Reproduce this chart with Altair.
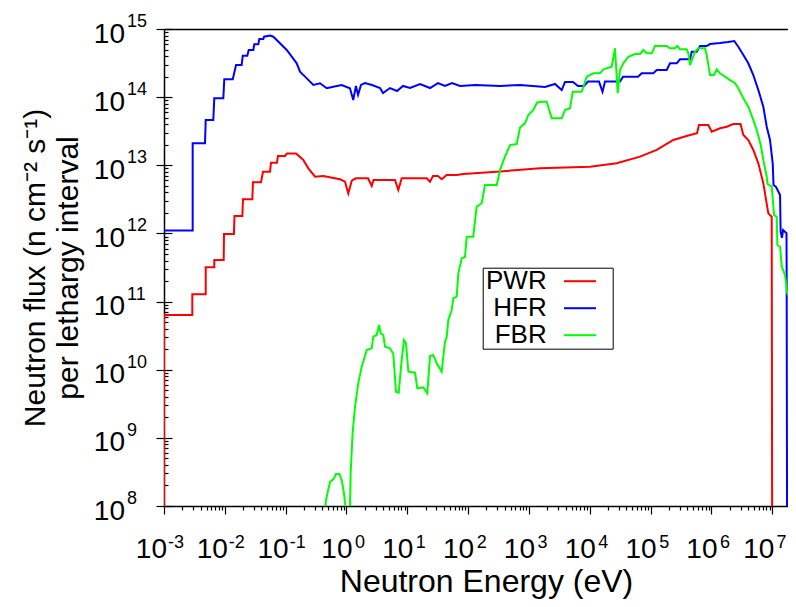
import altair as alt
import pandas as pd

# ---------------- data (energy in eV, flux per lethargy interval) ----------------
SERIES = ["PWR", "HFR", "FBR"]
COLORS = ["#ff0000", "#0000ff", "#00ff00"]

PWR_POINTS = [
    (1e-3, 1e6), (1e-3, 6.35e10), (2.92e-3, 6.35e10), (2.92e-3, 1.28e11), (4.85e-3, 1.28e11),
    (4.85e-3, 3.18e11), (6.71e-3, 3.18e11), (6.71e-3, 4.07e11), (9.58e-3, 4.07e11), (9.69e-3, 9.80e11),
    (1.41e-2, 9.80e11), (1.44e-2, 1.80e12), (1.94e-2, 1.80e12), (1.99e-2, 3.17e12), (2.83e-2, 3.17e12),
    (2.90e-2, 5.63e12), (3.93e-2, 5.63e12), (4.24e-2, 8.05e12), (5.53e-2, 8.05e12), (5.74e-2, 1.09e13),
    (7.20e-2, 1.09e13), (7.48e-2, 1.37e13), (9.75e-2, 1.37e13), (0.105, 1.49e13), (0.148, 1.49e13),
    (0.195, 1.20e13), (0.236, 9.03e12), (0.304, 6.80e12), (0.416, 6.96e12), (0.782, 6.23e12),
    (0.945, 5.74e12), (1.07, 3.85e12), (1.22, 5.94e12), (1.43, 6.44e12), (2.26, 6.44e12),
    (2.60, 4.96e12), (2.78, 6.08e12), (6.27, 6.08e12), (7.11, 4.34e12), (8.08, 6.44e12),
    (20.8, 6.44e12), (23.6, 5.74e12), (26.4, 6.96e12), (31.9, 6.96e12), (36.7, 6.23e12),
    (44.4, 7.20e12), (64.8, 7.20e12), (83.2, 7.45e12), (295, 8.05e12), (1518, 9.03e12),
    (10070, 9.53e12), (27660, 1.07e13), (66830, 1.34e13), (1.258e5, 1.68e13), (2.36e5, 2.35e13),
    (4.44e5, 2.78e13), (5.78e5, 2.95e13), (6.23e5, 3.90e13), (8.87e5, 3.90e13), (1.01e6, 3.11e13),
    (1.38e6, 3.49e13), (1.78e6, 3.68e13), (2.28e6, 4.03e13), (3.00e6, 4.03e13), (3.34e6, 2.78e13),
    (4.03e6, 2.35e13), (4.87e6, 1.68e13), (5.89e6, 1.07e13), (7.11e6, 5.44e12), (8.59e6, 1.97e12),
    (9.77e6, 1.76e12), (1.0e7, 1e6),
]

HFR_POINTS = [
    (1e-3, 1.10e12), (2.96e-3, 1.10e12), (2.96e-3, 2.10e13), (4.72e-3, 2.10e13), (4.85e-3, 4.62e13),
    (6.46e-3, 4.62e13), (6.71e-3, 9.62e13), (9.44e-3, 9.62e13), (9.80e-3, 1.83e14), (1.35e-2, 1.83e14),
    (1.53e-2, 2.96e14), (1.89e-2, 2.96e14), (1.97e-2, 4.06e14), (2.34e-2, 4.06e14), (2.47e-2, 4.92e14),
    (2.94e-2, 4.92e14), (3.05e-2, 5.96e14), (3.55e-2, 5.96e14), (3.69e-2, 7.13e14), (4.29e-2, 7.13e14),
    (4.41e-2, 7.71e14), (5.53e-2, 8.03e14), (6.26e-2, 7.71e14), (7.12e-2, 6.90e14), (8.61e-2, 5.82e14),
    (0.104, 4.92e14), (0.126, 3.92e14), (0.152, 3.14e14), (0.172, 2.36e14), (0.208, 2.0e14),
    (0.285, 1.51e14), (0.367, 1.60e14), (0.473, 1.35e14), (0.607, 1.42e14), (0.834, 1.51e14),
    (1.14, 1.35e14), (1.29, 9.08e13), (1.43, 1.46e14), (1.55, 1.08e14), (1.73, 1.51e14),
    (2.01, 1.61e14), (2.63, 1.51e14), (3.56, 1.36e14), (3.98, 1.15e14), (5.19, 1.36e14),
    (6.77, 1.23e14), (8.49, 1.46e14), (11.1, 1.36e14), (16.2, 1.56e14), (23.6, 1.36e14),
    (31.9, 1.61e14), (41.6, 1.46e14), (54.3, 1.61e14), (73.5, 1.46e14), (130, 1.51e14),
    (334, 1.46e14), (712, 1.51e14), (1833, 1.41e14), (2677, 1.56e14), (3450, 1.27e14),
    (3908, 1.67e14), (5291, 1.67e14), (6393, 1.46e14), (8024, 1.46e14), (9335, 1.69e14),
    (14160, 1.69e14), (16170, 1.20e14), (17770, 1.69e14), (31350, 1.69e14), (35120, 2.0e14),
    (61960, 2.0e14), (71290, 2.24e14), (1.106e5, 2.24e14), (1.258e5, 2.50e14), (1.835e5, 2.50e14),
    (2.08e5, 3.14e14), (2.68e5, 3.14e14), (3.04e5, 3.59e14), (4.44e5, 3.59e14), (4.73e5, 4.64e14),
    (5.72e5, 4.64e14), (6.48e5, 5.63e14), (8.34e5, 5.63e14), (9.46e5, 6.02e14), (1.38e6, 6.23e14),
    (1.87e6, 6.45e14), (2.37e6, 6.66e14), (2.76e6, 5.50e14), (3.34e6, 4.15e14), (4.03e6, 3.14e14),
    (4.87e6, 2.11e14), (5.89e6, 1.27e14), (7.11e6, 7.24e13), (8.09e6, 3.68e13), (9.16e6, 2.35e13),
    (1.015e7, 1.07e13), (1.046e7, 5.13e12), (1.15e7, 4.80e12), (1.34e7, 3.66e12), (1.37e7, 1.05e12),
    (1.44e7, 8.6e11), (1.50e7, 1.12e12), (1.71e7, 1.01e12), (1.72e7, 2.60e11), (1.76e7, 1e6),
]

FBR_POINTS = [
    (0.42, 5e7), (0.460, 1.22e8), (0.536, 2.27e8), (0.607, 2.46e8), (0.672, 2.95e8),
    (0.762, 2.95e8), (0.834, 2.40e8), (0.910, 1.53e8), (0.97, 9e7), (1.05, 2e7),
    (1.14, 9e7), (1.17, 3.02e8), (1.26, 1.17e9), (1.38, 2.86e9), (1.56, 6.31e9),
    (1.78, 1.11e10), (2.15, 1.95e10), (2.60, 2.06e10), (2.76, 3.05e10), (3.14, 3.23e10),
    (3.42, 4.53e10), (3.65, 3.42e10), (4.03, 3.23e10), (4.30, 2.17e10), (5.19, 2.06e10),
    (5.88, 1.70e10), (6.51, 4.75e9), (7.22, 4.60e9), (8.08, 1.39e10), (8.82, 2.73e10),
    (9.51, 2.44e10), (10.4, 9.34e9), (13.4, 9.03e9), (14.6, 5.33e9), (18.3, 5.51e9),
    (21.3, 4.50e9), (23.6, 1.59e10), (26.7, 1.64e10), (30.4, 1.24e10), (36.7, 9.34e9),
    (41.6, 2.58e10), (44.4, 3.05e10), (47.2, 5.36e10), (53.6, 7.52e10), (57.0, 1.12e11),
    (64.8, 1.18e11), (68.9, 2.60e11), (78.3, 4.31e11), (88.8, 4.55e11), (94.6, 8.95e11),
    (121, 8.95e11), (138, 2.47e12), (167, 2.77e12), (189, 5.13e12), (295, 5.13e12),
    (334, 8.53e12), (403, 1.34e13), (487, 1.98e13), (628, 2.05e13), (712, 3.58e13),
    (860, 4.13e13), (974, 5.47e13), (1178, 6.48e13), (1354, 8.34e13), (1618, 8.57e13),
    (1955, 8.57e13), (2362, 4.89e13), (3450, 4.89e13), (3908, 6.48e13), (4723, 6.86e13),
    (5230, 1.20e14), (7355, 1.20e14), (8888, 2.0e14), (11410, 2.24e14), (14710, 2.24e14),
    (16660, 2.56e14), (22890, 2.80e14), (25940, 5.21e14), (28730, 1.14e14), (31350, 2.50e14),
    (35520, 3.14e14), (42910, 3.92e14), (55310, 4.30e14), (66830, 4.30e14), (75720, 4.92e14),
    (86130, 4.40e14), (1.04e5, 4.40e14), (1.18e5, 5.63e14), (1.835e5, 5.63e14), (2.08e5, 5.21e14),
    (2.51e5, 5.21e14), (2.74e5, 5.63e14), (3.04e5, 5.04e14), (3.91e5, 5.04e14), (4.16e5, 4.40e14),
    (4.44e5, 2.96e14), (5.36e5, 4.64e14), (6.07e5, 5.21e14), (7.82e5, 5.21e14), (8.34e5, 4.15e14),
    (9.46e5, 2.11e14), (1.10e6, 2.11e14), (1.22e6, 2.56e14), (1.38e6, 2.24e14), (1.67e6, 2.0e14),
    (2.02e6, 1.78e14), (2.44e6, 1.60e14), (2.76e6, 1.35e14), (3.34e6, 9.62e13), (4.03e6, 7.24e13),
    (4.76e6, 4.89e13), (5.54e6, 3.29e13), (6.45e6, 1.98e13), (7.11e6, 1.20e13), (8.09e6, 6.80e12),
    (8.34e6, 5.31e12), (9.77e6, 4.85e12), (1.07e7, 1.86e12), (1.18e7, 1.76e12), (1.21e7, 6.76e11),
    (1.34e7, 6.38e11), (1.43e7, 3.25e11), (1.62e7, 2.45e11), (1.76e7, 1.32e11), (1.95e7, 1.18e11),
    (2.01e7, 1e6),
]

# axis decades / tick labels
X_DOMAIN = [1e-3, 1.81e7]
Y_DOMAIN = [1e8, 1e15]
X_DECADES = [-3, -2, -1, 0, 1, 2, 3, 4, 5, 6, 7]
X_EXPONENTS = ["-3", "-2", "-1", "0", "1", "2", "3", "4", "5", "6", "7"]
Y_DECADES = [8, 9, 10, 11, 12, 13, 14, 15]
Y_EXPONENTS = ["8", "9", "10", "11", "12", "13", "14", "15"]
MINOR_MULT = [2, 3, 4, 5, 6, 7, 8, 9]

X_TITLE = "Neutron Energy (eV)"
Y_TITLE = ["Neutron flux (n cm\u207b\u00b2 s\u207b\u00b9)", "per lethargy interval"]

FONT = "Liberation Sans"
W, H = 624, 477

# ---------------- tables ----------------
rows = []
for name, pts in zip(SERIES, [PWR_POINTS, HFR_POINTS, FBR_POINTS]):
    for i, (e, f) in enumerate(pts):
        rows.append({"series": name, "E": e, "F": f, "i": i})
df = pd.DataFrame(rows)

x_major = [10.0 ** d for d in X_DECADES]
y_major = [10.0 ** d for d in Y_DECADES]
x_ticks = x_major + [m * 10.0 ** d for d in X_DECADES for m in MINOR_MULT if m * 10.0 ** d <= X_DOMAIN[1]]
y_ticks = y_major + [m * 10.0 ** d for d in Y_DECADES[:-1] for m in MINOR_MULT]

xlab = pd.DataFrame({"v": x_major, "e": X_EXPONENTS})
ylab = pd.DataFrame({"v": y_major, "e": Y_EXPONENTS})

xs = alt.Scale(type="log", domain=X_DOMAIN, nice=False)
ys = alt.Scale(type="log", domain=Y_DOMAIN, nice=False)

major_test = "abs(log(datum.value)/LN10 - round(log(datum.value)/LN10)) < 0.01"
cond_size = {"condition": {"test": major_test, "value": 8}, "value": 4}

common_axis = dict(grid=False, labels=False, tickColor="black", tickWidth=1.2,
                   domainColor="black", domainWidth=1.5)

# main lines + bottom/left axes (outward ticks); legend with labels left of line samples
lines = alt.Chart(df).mark_line(strokeWidth=2, clip=True).encode(
    x=alt.X("E:Q", scale=xs, axis=alt.Axis(
        orient="bottom", values=x_ticks, tickSize=cond_size, title=X_TITLE,
        titleFont=FONT, titleFontSize=32, titleFontWeight="normal", titleColor="black",
        titleX=322, titleY=85, titleAlign="center", titleBaseline="alphabetic", **common_axis)),
    y=alt.Y("F:Q", scale=ys, axis=alt.Axis(
        orient="left", values=y_major, tickSize=8, title=Y_TITLE,
        titleFont=FONT, titleFontSize=30, titleFontWeight="normal", titleColor="black",
        titleLineHeight=33, titlePadding=72, **common_axis)),
    color=alt.Color("series:N", scale=alt.Scale(domain=SERIES, range=COLORS), legend=alt.Legend(
        orient="none", legendX=318.7, legendY=238.7,
        title="\u00a0", titleOrient="right", titleFontSize=16, titlePadding=13,
        symbolType="M-1.28,0H1.28", symbolSize=625, symbolStrokeWidth=2, symbolOffset=83.8,
        labelFont=FONT, labelFontSize=26, labelColor="black", labelAlign="right",
        labelOffset={"expr": "-46.8"}, strokeColor="black", fillColor="white", padding=0,
        rowPadding=0)),
    order="i:Q",
)

# inward ticks on left side, and top border line
inner = alt.Chart(df).mark_point(opacity=0).encode(
    x=alt.X("E:Q", scale=xs, axis=alt.Axis(orient="top", ticks=False, title=None, **common_axis)),
    y=alt.Y("F:Q", scale=ys, axis=alt.Axis(orient="right", offset=-W, values=y_ticks,
                                           tickSize=cond_size, domain=False, title=None,
                                           grid=False, labels=False, tickColor="black", tickWidth=1.2)),
)

# tick labels 10^n
xbase = alt.Chart(xlab).encode(x=alt.X("v:Q", scale=xs, axis=None), y=alt.value(H))
one = "length(datum.e) == 1 && datum.v < 5e6"
two = "length(datum.e) > 1"
last = "datum.v > 5e6"
x10_a = xbase.transform_filter(one).mark_text(
    text="10", align="right", baseline="alphabetic", dx=6, dy=52, font=FONT, fontSize=28, color="black")
xe_a = xbase.transform_filter(one).mark_text(
    align="left", baseline="alphabetic", dx=8.5, dy=42, font=FONT, fontSize=18, color="black").encode(text="e:N")
x10_b = xbase.transform_filter(two).mark_text(
    text="10", align="right", baseline="alphabetic", dx=3, dy=52, font=FONT, fontSize=28, color="black")
xe_b = xbase.transform_filter(two).mark_text(
    align="left", baseline="alphabetic", dx=4, dy=42, font=FONT, fontSize=18, color="black").encode(text="e:N")
x10_c = xbase.transform_filter(last).mark_text(
    text="10", align="right", baseline="alphabetic", dx=2, dy=52, font=FONT, fontSize=28, color="black")
xe_c = xbase.transform_filter(last).mark_text(
    align="left", baseline="alphabetic", dx=4.3, dy=42, font=FONT, fontSize=18, color="black").encode(text="e:N")

ybase = alt.Chart(ylab).encode(y=alt.Y("v:Q", scale=ys, axis=None), x=alt.value(0))
y10 = ybase.mark_text(text="10", align="right", baseline="alphabetic", dx=-39, dy=13.5,
                      font=FONT, fontSize=28, color="black")
ye = ybase.mark_text(align="left", baseline="alphabetic", dx=-37, dy=-2,
                     font=FONT, fontSize=18, color="black").encode(text="e:N")

chart = alt.layer(lines, inner, x10_a, xe_a, x10_b, xe_b, x10_c, xe_c, y10, ye).resolve_axis(
    x="independent", y="independent"
).properties(
    width=W, height=H,
    padding={"left": 156, "top": 21, "right": 0, "bottom": 93},
    autosize=alt.AutoSizeParams(type="none"),
    background="white",
).configure_view(stroke=None).configure(font=FONT)

chart.save("out.html", embed_options={"renderer": "svg", "actions": False})
